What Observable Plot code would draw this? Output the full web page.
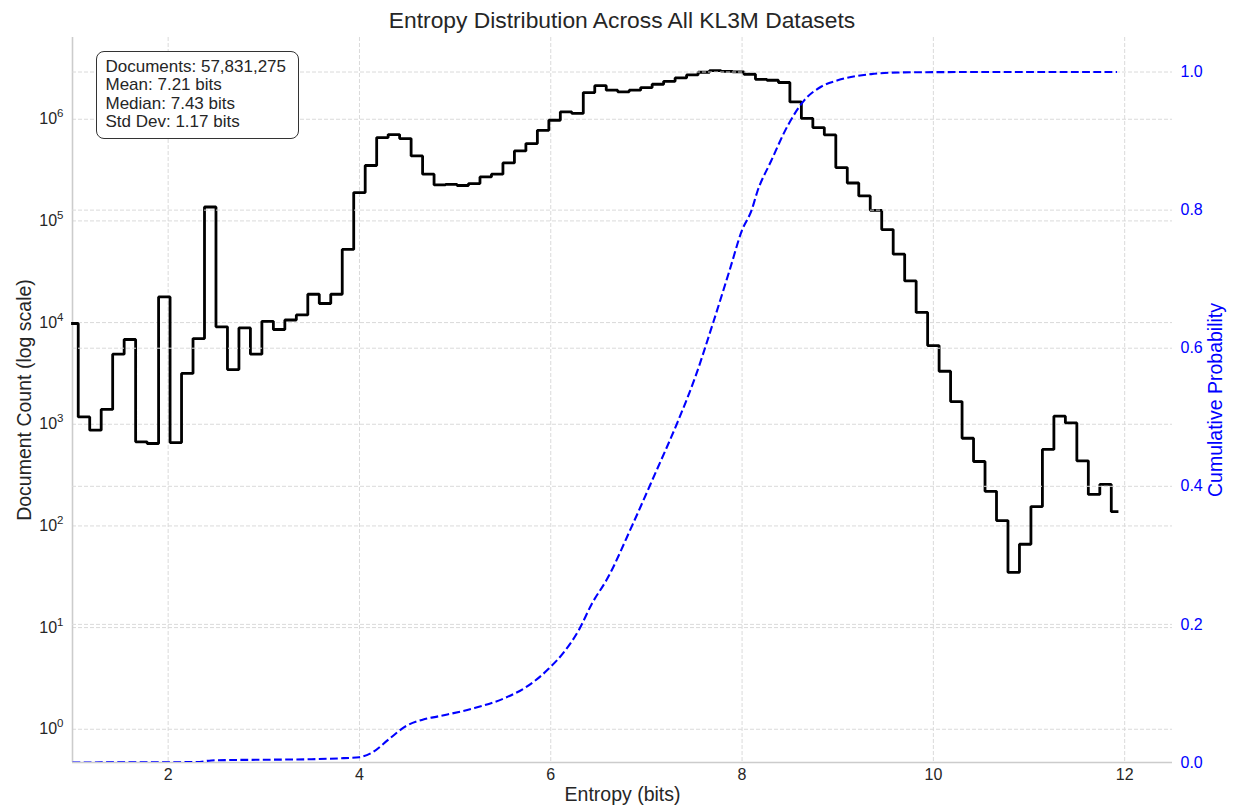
<!DOCTYPE html>
<html>
<head>
<meta charset="utf-8">
<script src="https://cdn.jsdelivr.net/npm/d3@7"></script>
<script src="https://cdn.jsdelivr.net/npm/@observablehq/plot@0.6"></script>
<style>
  body { margin: 0; background: #ffffff; font-family: "Liberation Sans", Arial, sans-serif; }
  #wrap { position: relative; width: 1236px; height: 812px; overflow: hidden; }
  #wrap svg { position: absolute; left: 0; top: 0; overflow: visible; }
  #title { position: absolute; left: 0; top: 7px; width: 1244px; text-align: center;
           font-size: 22.8px; color: #262626; line-height: 27px; }
  #stats { position: absolute; left: 96px; top: 51px; width: 203px; height: 88px; box-sizing: border-box;
           border: 1.3px solid #333333; border-radius: 8px; background: #ffffff;
           padding: 6px 0 0 8.5px; font-size: 17px; line-height: 18.3px; color: #262626; z-index: 5; }
</style>
</head>
<body>
<div id="wrap">
  <div id="title">Entropy Distribution Across All KL3M Datasets</div>
</div>
<script>
// ---- data ----
const binStart = 1.0;          // centre of the first entropy bin (bits)
const binWidth = 0.12;         // bin width (bits)
const counts = [
  9800, 1180, 875, 1400, 4890, 6820, 671, 647, 17900, 660,
  3160, 6970, 137000, 9080, 3450, 8870, 4890, 10300, 8550, 10600,
  11900, 19000, 15400, 19000, 52400, 190000, 351000, 661000, 707000, 646000,
  436000, 288000, 226000, 229000, 223000, 233000, 271000, 288000, 372000, 488000,
  576000, 779000, 978000, 1180000, 1140000, 1830000, 2140000, 1930000, 1860000, 1930000,
  2050000, 2210000, 2360000, 2550000, 2730000, 2900000, 3010000, 2960000, 2930000, 2770000,
  2470000, 2420000, 2300000, 1480000, 1020000, 829000, 701000, 335000, 236000, 176000,
  127000, 82200, 47100, 25700, 12600, 5940, 3320, 1670, 728, 430,
  219, 113, 35, 66, 155, 565, 1200, 1030, 437, 204,
  256, 138
];
const cdfX = [1.0, 1.5, 2.0, 2.3, 2.45, 2.6, 3.0, 3.5, 3.79, 4.0, 4.14, 4.31, 4.49, 4.66, 4.83,
              5.18, 5.53, 5.74, 5.98, 6.15, 6.29, 6.43, 6.59, 6.86, 7.09, 7.32, 7.51, 7.70, 7.87,
              8.0, 8.1, 8.16, 8.3, 8.48, 8.65, 8.83, 9.0, 9.35, 9.69, 10.5, 11.92];
const cdfP = [0, 0.0002, 0.0004, 0.0006, 0.003, 0.0035, 0.004, 0.0048, 0.006, 0.0077, 0.015, 0.034, 0.053, 0.062, 0.067,
              0.078, 0.094, 0.109, 0.136, 0.162, 0.191, 0.230, 0.266, 0.346, 0.418, 0.491, 0.558, 0.638, 0.713,
              0.771, 0.80, 0.827, 0.870, 0.923, 0.959, 0.979, 0.988, 0.997, 0.9995, 1.0, 1.0];
const xTicks = [2, 4, 6, 8, 10, 12];
const yTicks = [1, 10, 100, 1000, 10000, 100000, 1000000];
const pTicks = [0.0, 0.2, 0.4, 0.6, 0.8, 1.0];
const statLines = ["Documents: 57,831,275", "Mean: 7.21 bits", "Median: 7.43 bits", "Std Dev: 1.17 bits"];
const titleText = "Entropy Distribution Across All KL3M Datasets";
const xLabel = "Entropy (bits)";
const yLabel = "Document Count (log scale)";
const y2Label = "Cumulative Probability";

// ---- build tables ----
const hist = counts.map((c, i) => ({x: binStart + i * binWidth, y: c}));
const cdf = cdfX.map((x, i) => ({x, p: cdfP[i]}));

const W = 1236, H = 812;
const M = {marginLeft: 72, marginRight: 64, marginTop: 37, marginBottom: 50};
const FONT = '"Liberation Sans", Arial, sans-serif';
const gridStyle = {stroke: "#dadada", strokeOpacity: 1, strokeWidth: 1, strokeDasharray: "4,2"};
const xDomain = [1.0, 12.5];
const yDomain = [0.471, 6.37e6];

const p1 = Plot.plot({
  width: W, height: H, ...M,
  style: {fontFamily: FONT, fontSize: "16px", color: "#262626", background: "transparent"},
  x: {domain: xDomain},
  y: {type: "log", domain: yDomain},
  marks: [
    Plot.gridX({ticks: xTicks, ...gridStyle}),
    Plot.gridY({ticks: yTicks, ...gridStyle}),
    Plot.axisX({ticks: xTicks, tickSize: 0, tickPadding: 6, label: null, fontSize: 16}),
    Plot.axisY({ticks: yTicks, tickSize: 0, tickPadding: 9, label: null, fontSize: 16,
                tickFormat: d => "10^" + Math.round(Math.log10(d))}),
    Plot.ruleX([xDomain[0]], {stroke: "#cccccc", strokeWidth: 1.6}),
    Plot.ruleY([yDomain[0]], {stroke: "#cccccc", strokeWidth: 1.6}),
    Plot.line(hist, {x: "x", y: "y", curve: "step", stroke: "black", strokeWidth: 2.8,
                     strokeLinejoin: "miter", strokeLinecap: "square"}),
    Plot.text([xLabel], {frameAnchor: "bottom", textAnchor: "middle", dy: 38, fontSize: 19.5, fill: "#262626"}),
    Plot.text([yLabel], {frameAnchor: "left", textAnchor: "middle", rotate: -90, dx: -48, fontSize: 19.5, fill: "#262626"})
  ]
});

// superscript exponents on the log axis
d3.select(p1).selectAll('g[aria-label="y-axis tick label"] text').each(function () {
  const m = this.textContent.match(/^10\^(-?\d+)$/);
  if (!m) return;
  const t = d3.select(this);
  t.selectAll("*").remove();
  t.text(null);
  t.append("tspan").text("10");
  t.append("tspan").attr("dy", "-0.6em").attr("font-size", "11.5px").text(m[1]);
});

const p2 = Plot.plot({
  width: W, height: H, ...M,
  style: {fontFamily: FONT, fontSize: "16px", color: "#262626", background: "transparent"},
  x: {domain: xDomain, axis: null},
  y: {domain: [0, 1.05]},
  marks: [
    Plot.gridY({ticks: pTicks.filter(d => d > 0), ...gridStyle}),
    Plot.axisY({anchor: "right", ticks: pTicks, tickFormat: d3.format(".1f"), tickSize: 0, tickPadding: 8,
                label: null, color: "blue", fontSize: 16}),
    Plot.line(cdf, {x: "x", y: "p", stroke: "blue", strokeWidth: 2.1, strokeDasharray: "7.8,3.4",
                    strokeLinecap: "butt", curve: "monotone-x", clip: true}),
    Plot.text([y2Label], {frameAnchor: "right", textAnchor: "middle", rotate: -90, dx: 43, fontSize: 19.5, fill: "blue"})
  ]
});

const wrap = document.getElementById("wrap");
wrap.appendChild(p1);
wrap.appendChild(p2);
const stats = document.createElement("div");
stats.id = "stats";
stats.innerHTML = statLines.map(s => `<div>${s}</div>`).join("");
wrap.appendChild(stats);
document.getElementById("title").textContent = titleText;
</script>
</body>
</html>
